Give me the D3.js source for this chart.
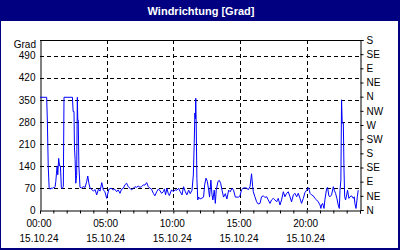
<!DOCTYPE html>
<html><head><meta charset="utf-8">
<script src="https://cdn.jsdelivr.net/npm/d3@7"></script>
<style>html,body{margin:0;padding:0;background:#fff;}svg{display:block;}</style>
</head><body>
<svg id="c" width="400" height="250"></svg>
<script>
const title = "Windrichtung [Grad]";
const yUnit = "Grad";
const minutes = [0,30,33,37,41,46,50,55,60,64,68,71,74,77,80,84,88,92,96,100,105,108,146,149,153,155,158,161,165,168,170,172,175,180,
187,195,203,210,215,220,225,232,240,248,255,263,270,278,285,292,300,310,320,330,337,345,352,360,367,375,382,390,397,405,412,420,427,435,442,450,457,465,472,480,487,495,502,510,517,525,532,540,547,555,560,565,571,577,582,592,600,607,616,624,631,639,646,654,661,669,676,684,690,694,697,699,701,703,706,710,714,721,729,736,741,747,753,759,763,769,774,778,784,789,793,801,807,813,819,826,834,841,849,856,864,871,879,887,894,900,907,915,922,930,937,945,952,957,960,967,975,982,990,997,1005,1012,1020,1027,1035,1042,1050,1057,1065,1072,1080,1087,1095,1102,1110,1117,1125,1132,1140,1147,1155,1162,1170,1177,1185,1192,1200,1207,1212,1215,1222,1230,1237,1245,1252,1260,1264,1267,1272,1278,1282,1290,1294,1300,1305,1312,1320,1324,1330,1336,1342,1347,1350,1354,1357,1360,1365,1368,1371,1375,1380,1384,1390,1395,1402,1410,1414,1417,1422,1428,1432];
const degrees = [358,358,286,140,72,66,70,68,72,70,74,90,115,140,112,164,140,140,72,68,75,358,358,313,313,200,160,85,110,358,286,286,140,72,
70,74,72,90,108,85,70,66,60,65,48,66,60,87,64,58,37,66,69,64,66,58,64,53,66,69,80,85,74,69,64,69,74,72,76,72,74,80,79,87,74,69,66,53,45,58,66,62,53,58,67,48,69,53,46,64,58,64,63,69,58,48,74,58,48,63,52,63,111,212,308,290,355,270,100,32,41,35,38,41,80,101,91,63,41,95,48,32,63,21,63,91,94,85,63,41,52,35,63,58,69,63,41,41,41,45,64,70,70,70,64,74,115,74,58,42,26,19,21,42,45,40,42,32,21,32,37,32,26,37,16,32,58,42,53,58,42,26,48,53,42,53,37,21,37,55,63,71,63,53,48,45,37,32,26,16,5,16,21,5,32,69,72,45,42,48,74,63,53,37,16,5,63,95,350,276,276,127,42,32,48,63,37,42,45,37,42,21,5,42,63];
const leftTicks = [0,70,140,210,280,350,420,490];
const compassTicks = [0,45,90,135,180,225,270,315,360,405,450,495,540];
const compassLabels = ["N","NE","E","SE","S","SW","W","NW","N","NE","E","SE","S"];
const timeTicks = [0,300,600,900,1200];
const timeLabels = ["00:00","05:00","10:00","15:00","20:00"];
const dateLabel = "15.10.24";

const svg = d3.select("#c");
const L=40,R=360,T=40,B=210;
const x = d3.scaleLinear().domain([0,1440]).range([L,R]);
const y = d3.scaleLinear().domain([0,540]).range([B,T]);
const font = "'Liberation Sans', Arial, sans-serif";

// title bar & frame
svg.append("rect").attr("x",0).attr("y",0).attr("width",400).attr("height",21).attr("fill","#000080");
svg.append("text").attr("x",201).attr("y",15).attr("text-anchor","middle")
  .attr("font-family",font).attr("font-weight","bold").attr("font-size",11).attr("fill","#fff").text(title);
svg.append("rect").attr("x",0).attr("y",21).attr("width",1).attr("height",229).attr("fill","#000080");
svg.append("rect").attr("x",398).attr("y",21).attr("width",2).attr("height",229).attr("fill","#000080");
svg.append("rect").attr("x",0).attr("y",248).attr("width",400).attr("height",2).attr("fill","#000080");

// grid
const g = svg.append("g");
g.selectAll(".hg").data(leftTicks.filter(d=>d>0)).enter().append("line")
  .attr("x1",L).attr("x2",R).attr("y1",d=>Math.round(y(d))+0.5).attr("y2",d=>Math.round(y(d))+0.5)
  .attr("stroke","#000").attr("stroke-dasharray","4,3");
g.selectAll(".vg").data(timeTicks.filter(d=>d>0)).enter().append("line")
  .attr("y1",T).attr("y2",B).attr("x1",d=>Math.round(x(d))+0.5).attr("x2",d=>Math.round(x(d))+0.5)
  .attr("stroke","#000").attr("stroke-dasharray","4,3");

// frame lines
svg.append("line").attr("x1",L).attr("x2",R+1).attr("y1",T+0.5).attr("y2",T+0.5).attr("stroke","#000");

// axes
const xAxis = d3.axisBottom(x).tickValues(d3.range(0,1441,60)).tickSize(3).tickFormat("");
svg.append("g").attr("transform",`translate(0,${B+0.5})`).call(xAxis)
  .call(s=>s.selectAll("path,line").attr("stroke","#000"));
const yAxis = d3.axisLeft(y).tickValues(leftTicks).tickSize(0).tickPadding(5).tickFormat(d3.format("d"));
svg.append("g").attr("transform",`translate(${L+0.5},0)`).call(yAxis)
  .call(s=>{s.select(".domain").attr("stroke","#000");
    s.selectAll("text").attr("font-family",font).attr("font-size",10).attr("fill","#000");});
const cMap = new Map(compassTicks.map((d,i)=>[d,compassLabels[i]]));
const rAxis = d3.axisRight(y).tickValues(compassTicks).tickSize(3).tickPadding(3).tickFormat(d=>cMap.get(d));
svg.append("g").attr("transform",`translate(${R+0.5},0)`).call(rAxis)
  .call(s=>{s.selectAll("path,line").attr("stroke","#000");
    s.selectAll("text").attr("font-family",font).attr("font-size",10).attr("fill","#000");});

svg.append("text").attr("x",36).attr("y",48).attr("text-anchor","end")
  .attr("font-family",font).attr("font-size",10).attr("fill","#000").text(yUnit);

// time labels
const tl = svg.append("g").attr("font-family",font).attr("font-size",10).attr("fill","#000").attr("text-anchor","middle");
tl.selectAll(".t1").data(timeTicks).enter().append("text")
  .attr("x",(d)=>x(d)-1).attr("y",227).text((d,i)=>timeLabels[i]);
tl.selectAll(".t2").data(timeTicks).enter().append("text")
  .attr("x",(d)=>x(d)-1).attr("y",242).text(dateLabel);

// data line
svg.append("clipPath").attr("id","clip").append("rect").attr("x",L).attr("y",T).attr("width",R-L).attr("height",B-T);
const pts = minutes.map((m,i)=>[m,degrees[i]]);
svg.append("path").datum(pts).attr("clip-path","url(#clip)")
  .attr("fill","none").attr("stroke","#0000ff").attr("stroke-width",1)
  .attr("d", d3.line().x(d=>x(d[0])).y(d=>y(d[1])));
</script>
</body></html>
